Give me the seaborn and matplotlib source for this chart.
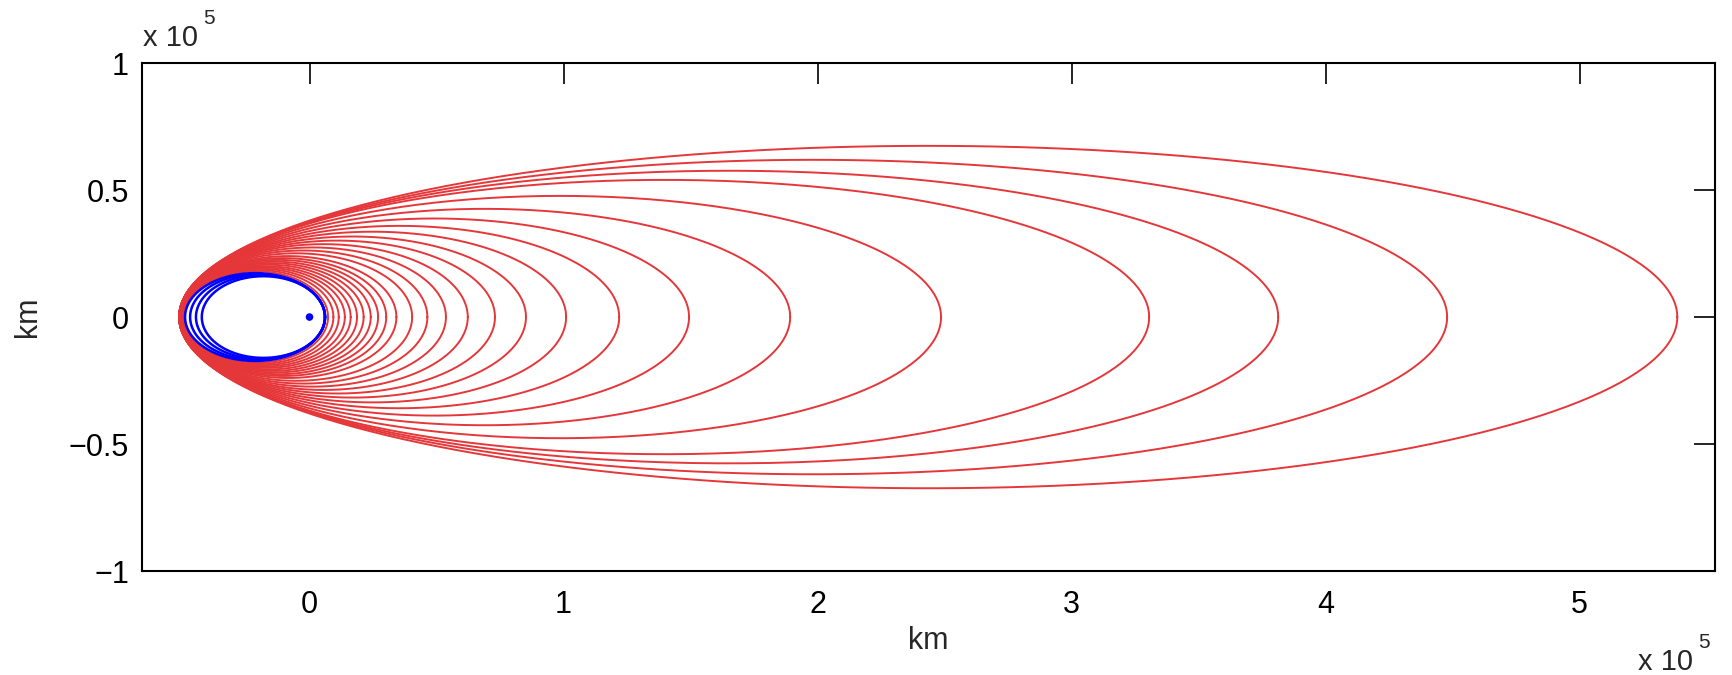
import numpy as np
import pandas as pd
import seaborn as sns
from matplotlib import pyplot as plt
from matplotlib.ticker import FuncFormatter

# red transfer orbits: apoapsis x (km), periapsis x (km), half height (km)
red_apo_km = [7300, 9400, 11500, 13900, 16200, 18700, 21300, 24100, 27000,
              30200, 34200, 40400, 46400, 53700, 62300, 73000, 85200,
              101000, 121900, 149400, 189200, 248600, 330500, 381300,
              447800, 538400]
red_peri_km = [-49500, -49700, -49900, -50100, -50300, -50500, -50700,
               -50800, -50900, -51000, -51100, -51200, -51300, -51300,
               -51300, -51300, -51300, -51300, -51300, -51300, -51300,
               -51300, -51300, -51300, -51300, -51300]
red_half_km = [18000, 18500, 19000, 19500, 20000, 20600, 21200, 21800,
               22500, 23200, 24000, 25100, 26200, 27400, 28700, 30100,
               31700, 33600, 35900, 38800, 42600, 47700, 54000, 57600,
               61900, 67400]

# blue orbits around the body at the origin: apoapsis on the left
blue_apo_km = [-49000, -47000, -44700, -42400]
blue_peri_km = 6100

x_ticks = [0, 1e5, 2e5, 3e5, 4e5, 5e5]
y_ticks = [-1e5, -0.5e5, 0, 0.5e5, 1e5]


def ellipse(x_left, x_right, b, n=400):
    '''
    Points of an axis-aligned ellipse given its two x vertices and half height
    '''
    a = (x_right - x_left) / 2
    c = (x_right + x_left) / 2
    t = np.linspace(0, 2 * np.pi, n)
    return c + a * np.cos(t), b * np.sin(t)


def build_frame():
    rows = []
    for i, (apo, peri, b) in enumerate(zip(red_apo_km, red_peri_km, red_half_km)):
        x, y = ellipse(peri, apo, b)
        rows.append(pd.DataFrame({'x': x, 'y': y, 'orbit': i, 'kind': 'red'}))
    for i, apo in enumerate(blue_apo_km):
        # kepler orbit with focus at the origin, periapsis on the right
        a = (blue_peri_km - apo) / 2
        e = 1 - blue_peri_km / a
        x, y = ellipse(apo, blue_peri_km, a * np.sqrt(1 - e ** 2))
        rows.append(pd.DataFrame({'x': x, 'y': y, 'orbit': 100 + i, 'kind': 'blue'}))
    return pd.concat(rows, ignore_index=True)


def main():
    sns.set_theme(style='white')
    plt.rcParams['font.family'] = ['Liberation Sans', 'DejaVu Sans']

    df = build_frame()

    fig = plt.figure(figsize=(17.33, 6.75), dpi=100)
    ax = fig.add_axes([0.0817, 0.154, 0.908, 0.7526])

    sns.lineplot(data=df[df['kind'] == 'red'], x='x', y='y', units='orbit',
                 estimator=None, sort=False, color='#e5373a', linewidth=1.4, ax=ax)
    sns.lineplot(data=df[df['kind'] == 'blue'], x='x', y='y', units='orbit',
                 estimator=None, sort=False, color='#0000ff', linewidth=1.8, ax=ax)
    sns.scatterplot(x=[0], y=[0], color='#0000ff', s=30, edgecolor='none', ax=ax)

    ax.set_xlim(-66100, 553300)
    ax.set_ylim(-1e5, 1e5)
    ax.set_xticks(x_ticks)
    ax.set_yticks(y_ticks)
    fmt = FuncFormatter(lambda v, p: ('%g' % (v / 1e5)).replace('-', '\u2212'))
    ax.xaxis.set_major_formatter(fmt)
    ax.yaxis.set_major_formatter(fmt)
    ax.tick_params(direction='in', length=15, width=1.2, labelsize=22,
                   top=True, right=True, colors='black')
    ax.tick_params(axis='x', pad=14)
    ax.tick_params(axis='y', pad=9)
    for s in ax.spines.values():
        s.set_visible(True)
        s.set_color('black')
        s.set_linewidth(1.5)

    ax.set_xlabel('km', fontsize=22)
    ax.set_ylabel('km', fontsize=22)
    ax.xaxis.set_label_coords(0.5, -(641 - 571) / 508)
    ax.xaxis.label.set_va('center')
    ax.yaxis.set_label_coords((28 - 141.5) / 1573.5, 0.5)
    ax.yaxis.label.set_va('center')

    fig.text(143 / 1733, 1 - 46 / 675, 'x 10', fontsize=21, va='baseline')
    fig.text(203 / 1733, 1 - 24 / 675, '5', fontsize=15, va='baseline')
    fig.text(1638 / 1733, 1 - 670 / 675, 'x 10', fontsize=21, va='baseline')
    fig.text(1698 / 1733, 1 - 648 / 675, '5', fontsize=15, va='baseline')

    fig.savefig('out.png', dpi=100, facecolor='white')


if __name__ == '__main__':
    main()
